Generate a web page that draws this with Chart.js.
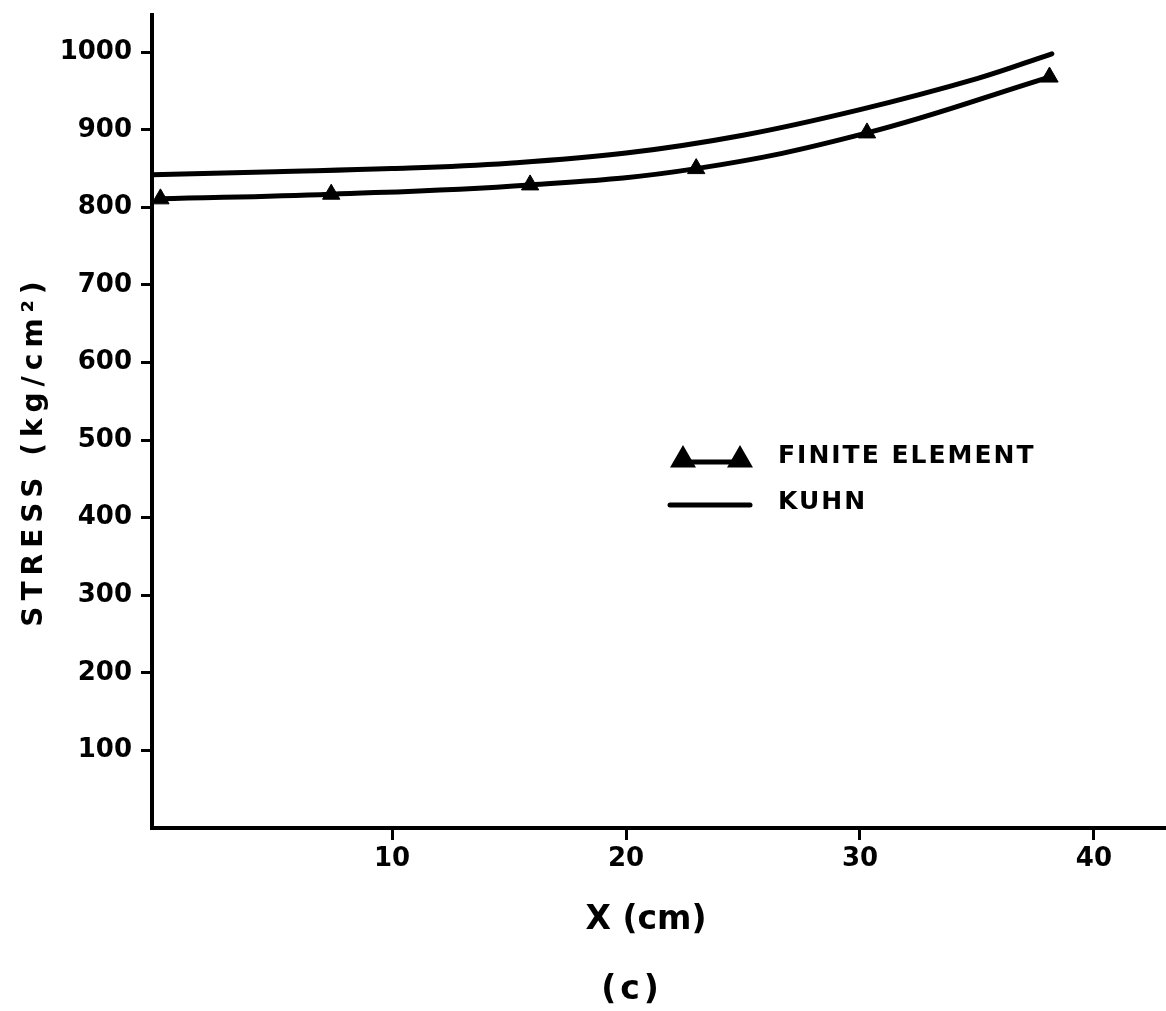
<!DOCTYPE html>
<html>
<head>
<meta charset="utf-8">
<script src="https://cdn.jsdelivr.net/npm/chart.js@4.4.0/dist/chart.umd.min.js"></script>
<style>
  html, body { margin: 0; padding: 0; background: #fff; }
</style>
</head>
<body>
<canvas id="chart" width="1166" height="1011"></canvas>
<script>
// values
var feX = [0.1, 7.4, 15.9, 23.0, 30.3, 38.1];
var feStress = [811, 817, 829, 850, 896, 968];
var kuhnX = [-0.25, 5, 10, 15, 20, 25, 30, 35, 38.2];
var kuhnStress = [842, 846, 850, 857, 870, 893, 926, 966, 998];
var xTicks = [10, 20, 30, 40];
var yTicks = [100, 200, 300, 400, 500, 600, 700, 800, 900, 1000];
var seriesNames = ["FINITE ELEMENT", "KUHN"];
var xTitle = "X (cm)";
var yTitle = "STRESS (kg/cm\u00B2)";
var caption = "(c)";

function points(xs, ys) {
  return xs.map(function (x, i) { return { x: x, y: ys[i] }; });
}

var FONT = '"DejaVu Sans", sans-serif';

// axis titles, caption and the in-plot legend, drawn with letter spacing
var textsPlugin = {
  id: "texts",
  afterDraw: function (chart) {
    var ctx = chart.ctx;
    var area = chart.chartArea;
    ctx.save();
    ctx.fillStyle = "#000";
    ctx.strokeStyle = "#000";
    ctx.textBaseline = "middle";

    // y title
    ctx.save();
    ctx.font = "bold 28px " + FONT;
    ctx.letterSpacing = "6px";
    ctx.textAlign = "center";
    ctx.translate(area.left - 117, 451);
    ctx.rotate(-Math.PI / 2);
    ctx.fillText(yTitle, 0, 0);
    ctx.restore();

    // x title and caption
    ctx.textAlign = "center";
    ctx.font = "bold 33px " + FONT;
    ctx.letterSpacing = "0px";
    ctx.fillText(xTitle, 646, area.bottom + 92);
    ctx.letterSpacing = "4px";
    ctx.fillText(caption, 632, area.bottom + 162);

    // legend
    var ds = chart.data.datasets;
    ctx.textAlign = "left";
    ctx.font = "bold 25px " + FONT;
    ctx.letterSpacing = "2px";
    var rows = [
      { y: 462, ty: 456, x0: 683, x1: 740 },
      { y: 505, ty: 502, x0: 670, x1: 750 }
    ];
    ds.forEach(function (d, i) {
      var r = rows[i];
      ctx.lineWidth = d.borderWidth;
      ctx.lineCap = "round";
      ctx.beginPath();
      ctx.moveTo(r.x0, r.y);
      ctx.lineTo(r.x1, r.y);
      ctx.stroke();
      if (d.pointRadius > 0) {
        [r.x0, r.x1].forEach(function (px) {
          Chart.helpers.drawPoint(ctx, {
            pointStyle: d.pointStyle, radius: d.pointRadius, rotation: 0, borderWidth: 1
          }, px, r.y - 2);
          ctx.fill();
        });
      }
      ctx.fillText(d.label, 778, r.ty);
    });
    ctx.restore();
  }
};

function plainLabel(v) { return String(v); }

new Chart("chart", {
  type: "line",
  data: {
    datasets: [
      {
        label: seriesNames[0],
        data: points(feX, feStress),
        borderColor: "#000",
        backgroundColor: "#000",
        borderWidth: 5,
        tension: 0.4,
        pointStyle: "triangle",
        pointRadius: 10,
        pointBorderWidth: 1
      },
      {
        label: seriesNames[1],
        data: points(kuhnX, kuhnStress),
        borderColor: "#000",
        backgroundColor: "#000",
        borderWidth: 5,
        borderCapStyle: "round",
        tension: 0.4,
        pointRadius: 0
      }
    ]
  },
  options: {
    responsive: false,
    animation: false,
    layout: { autoPadding: false, padding: { top: 15, left: 0, right: 0, bottom: 0 } },
    plugins: { legend: { display: false }, tooltip: { enabled: false } },
    scales: {
      x: {
        type: "linear",
        min: -0.26,
        max: 43.08,
        afterBuildTicks: function (axis) {
          axis.ticks = xTicks.map(function (v) { return { value: v }; });
        },
        afterFit: function (scale) {
          scale.height = 183;
          scale.paddingLeft = 0;
          scale.paddingRight = 0;
        },
        border: { display: true, color: "#000", width: 4 },
        grid: { drawOnChartArea: false, drawTicks: true, tickLength: 12, tickWidth: 3, tickColor: "#000" },
        ticks: { color: "#000", padding: 4, callback: plainLabel, font: { family: FONT, size: 26, weight: "bold" } }
      },
      y: {
        type: "linear",
        min: 0,
        max: 1048,
        afterBuildTicks: function (axis) {
          axis.ticks = yTicks.map(function (v) { return { value: v }; });
        },
        afterFit: function (scale) {
          scale.width = 152;
          scale.paddingTop = 0;
          scale.paddingBottom = 0;
        },
        border: { display: true, color: "#000", width: 4 },
        grid: { drawOnChartArea: false, drawTicks: true, tickLength: 11, tickWidth: 3, tickColor: "#000" },
        ticks: { color: "#000", padding: 9, callback: plainLabel, font: { family: FONT, size: 26, weight: "bold" } }
      }
    }
  },
  plugins: [textsPlugin]
});
</script>
</body>
</html>
